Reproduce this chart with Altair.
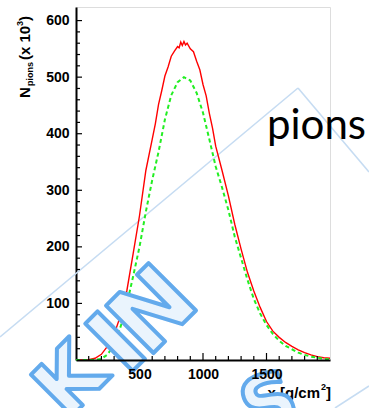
import altair as alt
import pandas as pd

# ---- data ----
red_x = [0, 50, 100, 150, 200, 250, 300, 350, 400, 450, 500, 550, 600,
         625, 650, 675, 700, 725, 750, 775, 800, 812, 825, 837, 850, 862, 875, 900, 925, 950, 975, 1000, 1025, 1050, 1075,
         1100, 1150, 1200, 1250, 1300, 1350, 1400, 1450, 1500, 1550, 1600, 1650, 1700, 1750, 1800, 1850, 1900, 1950, 2000]
red_y = [0, 0, 0.5, 3, 10, 25, 45, 78, 122, 188, 255, 335, 390,
         418, 452, 476, 502, 518, 537, 546, 554, 552, 562, 556, 563, 557, 560, 550, 545, 528, 513, 487, 467, 436, 410,
         378, 335, 290, 240, 196, 155, 122, 93, 68, 51, 40, 31, 24, 18, 13, 9, 6, 4, 3]

green_x = list(range(0, 2001, 50))
green_y = [0, 0, 0, 0.5, 2, 10, 28, 58, 98, 148, 200, 262, 318, 368, 425, 468, 491, 500, 494, 472, 437,
           390, 342, 305, 265, 218, 180, 142, 108, 82, 62, 46, 34, 25, 19, 13, 9, 6, 4, 2, 1]

x_labels = [500, 1000, 1500]
x_minor = [v for v in range(100, 2000, 100) if v not in x_labels]
y_labels = [0, 100, 200, 300, 400, 500, 600]
y_major_ticks = [100, 200, 300, 400, 500, 600]
y_minor = [v for v in range(20, 620, 20) if v % 100 != 0]

W, H = 254, 353
PADL, PADT = 76, 7
FONT = "Liberation Sans"

red_df = pd.DataFrame({"x": red_x, "y": red_y})
green_df = pd.DataFrame({"x": green_x, "y": green_y})

xs = alt.Scale(domain=[0, 2000], nice=False, zero=False)
ys = alt.Scale(domain=[0, 624], nice=False, zero=False)

xaxis = alt.Axis(values=x_labels, ticks=False, grid=False, title=None, labelFont=FONT, format="d",
                 labelFontWeight="bold", labelFontSize=14, labelColor="black", domainColor="black",
                 domainWidth=2, labelPadding=7, zindex=1)
yaxis = alt.Axis(values=y_labels, ticks=False, grid=False, title=None, labelFont=FONT, format="d",
                 labelFontWeight="bold", labelFontSize=14, labelColor="black", domainColor="black",
                 domainWidth=2, labelPadding=7)

red = alt.Chart(red_df).mark_line(color="#ff0000", strokeWidth=1.4).encode(
    x=alt.X("x:Q", scale=xs, axis=xaxis),
    y=alt.Y("y:Q", scale=ys, axis=yaxis),
)
green = alt.Chart(green_df).mark_line(color="#22ee22", strokeWidth=2, strokeDash=[4, 3]).encode(
    x=alt.X("x:Q", scale=xs), y=alt.Y("y:Q", scale=ys)
)

def xticks(vals, length):
    return alt.Chart(pd.DataFrame({"v": vals})).mark_rule(color="black", strokeWidth=1.2).encode(
        x=alt.X("v:Q", scale=xs), y=alt.value(H), y2=alt.value(H - length))

def yticks(vals, length):
    return alt.Chart(pd.DataFrame({"v": vals})).mark_rule(color="black", strokeWidth=1.2).encode(
        y=alt.Y("v:Q", scale=ys), x=alt.value(0), x2=alt.value(length))

one = pd.DataFrame({"a": [0]})

def txt(s, px, py, size, angle=0, align="left", baseline="alphabetic", font=FONT, weight="bold",
        color="black", **kw):
    props = dict(text=s, fontSize=size, align=align, baseline=baseline, font=font,
                 fontWeight=weight, color=color, **kw)
    if angle:
        props["angle"] = angle
    return alt.Chart(one).mark_text(**props).encode(x=alt.value(px - PADL), y=alt.value(py - PADT))

def wline(x1, y1, x2, y2):
    return alt.Chart(one).mark_rule(color="#c6dcf2", strokeWidth=1.6).encode(
        x=alt.value(x1 - PADL), y=alt.value(y1 - PADT), x2=alt.value(x2 - PADL), y2=alt.value(y2 - PADT))

def wletter(s, px, py, angle, size=92):
    return alt.Chart(one).mark_text(text=s, fontSize=size, font="DejaVu Sans", fontWeight="bold",
                                    align="center", baseline="middle", angle=angle,
                                    fill="#eaf4fd", stroke="#63aaec", strokeWidth=4,
                                    strokeJoin="round").encode(
        x=alt.value(px - PADL), y=alt.value(py - PADT))

layers = [
    wline(0, 337, 298, 88), wline(298, 88, 369, 172), wline(335, 408, 369, 386),
    red, green,
    xticks(x_labels, 7), xticks(x_minor, 4), yticks(y_major_ticks, 6), yticks(y_minor, 4),
    # y title: N_pions (x 10^3)
    txt("N", 30, 98, 15, angle=270),
    txt("pions", 33, 86, 9, angle=270),
    txt("(x 10", 30, 60, 15, angle=270),
    txt("3", 23, 26, 9, angle=270),
    txt(")", 30, 21, 15, angle=270),
    # x title: x [g/cm^2]
    txt("x [g/cm", 320, 398, 15, align="right"),
    txt("2", 321, 390, 9),
    txt("]", 326, 398, 15),
    # annotation
    txt("pions", 267, 139, 42, font="Lato", weight="normal"),
    # watermark letters
    wletter("K", 72, 382, 315, 80), wletter("I", 119, 345, 315), wletter("N", 155, 312, 315),
    wletter("S", 270, 406, 340, 76),
]

chart = alt.layer(*layers).properties(
    width=W, height=H,
    autosize=alt.AutoSizeParams(type="none"),
    padding={"left": PADL, "top": PADT, "right": 369 - PADL - W, "bottom": 408 - PADT - H},
).configure_view(stroke="#333333", strokeWidth=1.2).configure(background="white")

chart.save("out.html", embed_options={"renderer": "svg", "actions": False})
